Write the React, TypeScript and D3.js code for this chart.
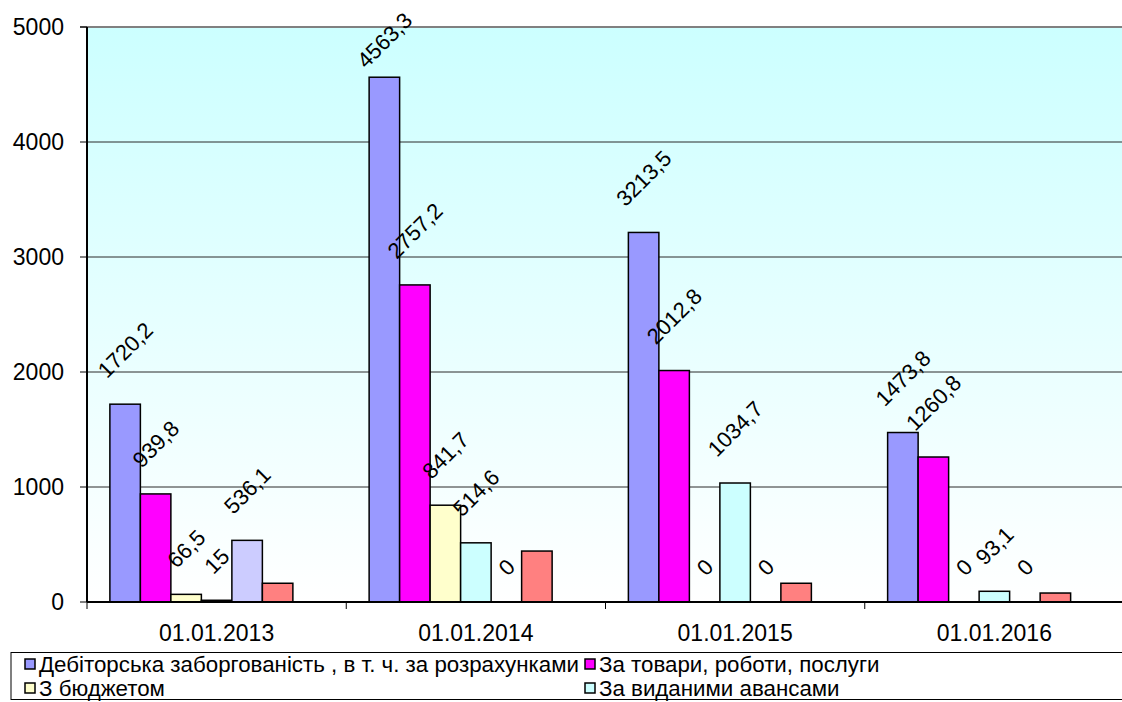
import React from "react";
import * as d3 from "d3";

// Category labels (reporting dates)
const categories = ["01.01.2013", "01.01.2014", "01.01.2015", "01.01.2016"];

// Series values, one array per series (thousand UAH)
const totalReceivables = [1720.2, 4563.3, 3213.5, 1473.8];
const goodsWorksServices = [939.8, 2757.2, 2012.8, 1260.8];
const withBudget = [66.5, 841.7, 0, 0];
const advancesIssued = [15, 514.6, 1034.7, 93.1];
const otherReceivables = [536.1, 0, 0, 0];
const remainingReceivables = [163, 443, 163, 78];

const seriesNames = [
  "Дебіторська заборгованість , в т. ч. за розрахунками",
  "За товари, роботи, послуги",
  "З бюджетом",
  "За виданими авансами",
  "Інша",
  "Решта",
];
const seriesColors = ["#9999ff", "#ff00ff", "#ffffcc", "#ccffff", "#ccccff", "#ff8080"];
const seriesValues = [
  totalReceivables,
  goodsWorksServices,
  withBudget,
  advancesIssued,
  otherReceivables,
  remainingReceivables,
];
const seriesLabelled = [true, true, true, true, true, false];
const legendCount = 4;

const yTicks = [0, 1000, 2000, 3000, 4000, 5000];

const W = 1122;
const H = 702;
const plot = { left: 87, top: 27, right: 1124, bottom: 602 };
const FONT = "'Liberation Sans', Arial, sans-serif";
const labelSize = 22;

const fmt = (v: number) => String(v).replace(".", ",");
const charW = (ch: string) => (ch === "," ? 0.278 : 0.556);

export default function App() {
  const x0 = d3
    .scaleBand<string>()
    .domain(categories)
    .range([plot.left, plot.right])
    .paddingInner(1.5 / 8.5)
    .paddingOuter(0.75 / 8.5);
  // seven slots per cluster; the six series fill the first six
  const x1 = d3
    .scaleBand<number>()
    .domain(d3.range(7))
    .range([0, x0.bandwidth()]);
  const y = d3.scaleLinear().domain([0, 5000]).range([plot.bottom, plot.top]);

  const bars: React.ReactNode[] = [];
  const labels: React.ReactNode[] = [];
  seriesValues.forEach((vals, s) => {
    vals.forEach((v, c) => {
      const bx = (x0(categories[c]) ?? 0) + (x1(s) ?? 0);
      const bw = x1.bandwidth();
      if (v > 0) {
        bars.push(
          <rect
            key={`b${s}-${c}`}
            x={bx}
            y={y(v)}
            width={bw}
            height={y(0) - y(v)}
            fill={seriesColors[s]}
            stroke="#000"
            strokeWidth={1.5}
          />
        );
      }
      if (seriesLabelled[s]) {
        const txt = fmt(v);
        const tw = [...txt].reduce((a, ch) => a + charW(ch), 0) * labelSize;
        const half = (tw + 0.85 * labelSize) / (2 * Math.SQRT2);
        const cx = bx + bw / 2;
        const cy = Math.max(y(v) - 24 - half, 40);
        labels.push(
          <text
            key={`l${s}-${c}`}
            transform={`translate(${cx},${cy}) rotate(-45)`}
            textAnchor="middle"
            dy="0.36em"
            fontSize={labelSize}
            fontFamily={FONT}
            fill="#000"
          >
            {txt}
          </text>
        );
      }
    });
  });

  const legendRows = [
    { x: 25, y: 664, s: 0 },
    { x: 585, y: 664, s: 1 },
    { x: 25, y: 688, s: 2 },
    { x: 585, y: 688, s: 3 },
  ].slice(0, legendCount);

  return (
    <svg
      width={W}
      height={H}
      style={{ position: "absolute", left: 0, top: 0, background: "#fff" }}
      fontFamily={FONT}
    >
      <defs>
        <linearGradient id="plotBg" x1="0" y1="0" x2="0" y2="1">
          <stop offset="0" stopColor="#ccffff" />
          <stop offset="1" stopColor="#ffffff" />
        </linearGradient>
      </defs>
      <rect
        x={plot.left}
        y={plot.top}
        width={plot.right - plot.left}
        height={plot.bottom - plot.top}
        fill="url(#plotBg)"
      />
      {yTicks.slice(1, -1).map((t) => (
        <line key={`g${t}`} x1={plot.left} x2={plot.right} y1={y(t)} y2={y(t)} stroke="#2a2a2a" strokeWidth={1} />
      ))}
      <line x1={plot.left - 7} x2={plot.right} y1={y(5000)} y2={y(5000)} stroke="#808080" strokeWidth={2} />
      {bars}
      {/* axes */}
      <line x1={plot.left} x2={plot.left} y1={plot.top} y2={plot.bottom} stroke="#000" strokeWidth={2} />
      <line x1={plot.left} x2={plot.right} y1={plot.bottom} y2={plot.bottom} stroke="#000" strokeWidth={2} />
      {yTicks.map((t) => (
        <g key={`t${t}`}>
          <line x1={plot.left - 7} x2={plot.left} y1={y(t)} y2={y(t)} stroke="#000" strokeWidth={1} />
          <text x={64} y={y(t)} dy="0.36em" textAnchor="end" fontSize={23}>
            {t}
          </text>
        </g>
      ))}
      {categories.map((c, i) => {
        const start = plot.left + (i * (plot.right - plot.left)) / categories.length;
        const step = (plot.right - plot.left) / categories.length;
        return (
          <g key={`c${c}`}>
            <line x1={start} x2={start} y1={plot.bottom} y2={plot.bottom + 7} stroke="#000" strokeWidth={1} />
            <text x={start + step / 2} y={641} textAnchor="middle" fontSize={23}>
              {c}
            </text>
          </g>
        );
      })}
      {labels}
      {/* legend */}
      <rect x={11} y={652.5} width={1120} height={47} fill="#fff" stroke="#000" strokeWidth={1} />
      {legendRows.map((r) => (
        <g key={`lg${r.s}`}>
          <rect x={r.x} y={r.y - 5} width={10} height={10} fill={seriesColors[r.s]} stroke="#000" strokeWidth={1.5} />
          <text x={r.x + 14} y={r.y} dy="0.36em" fontSize={22.3}>
            {seriesNames[r.s]}
          </text>
        </g>
      ))}
    </svg>
  );
}
